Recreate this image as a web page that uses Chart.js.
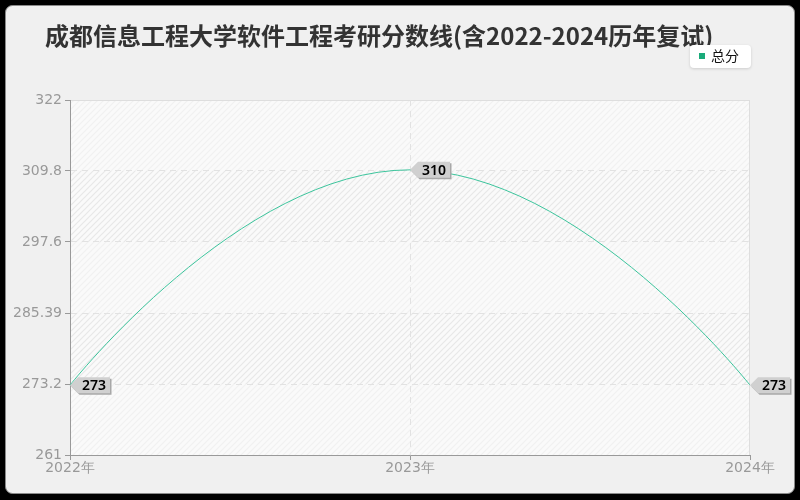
<!DOCTYPE html>
<html>
<head>
<meta charset="utf-8">
<script src="https://cdn.jsdelivr.net/npm/chart.js@4.4.0/dist/chart.umd.min.js"></script>
<style>
  html, body { margin: 0; padding: 0; background: #000; }
  #wrap { width: 800px; height: 500px; }
</style>
</head>
<body>
<div id="wrap"><canvas id="chart" width="800" height="500"></canvas></div>
<script>
// chart data
const titleText = "成都信息工程大学软件工程考研分数线(含2022-2024历年复试)";
const years = ["2022年", "2023年", "2024年"];
const seriesName = "总分";
const scores = [273, 310, 273];
const yTicks = [261, 273.2, 285.39, 297.6, 309.8, 322];
const lineColor = "#3cc49c";

// striped background for the plot area
function stripes(bg, fg) {
    const c = document.createElement("canvas");
    c.width = 6; c.height = 6;
    const g = c.getContext("2d");
    g.fillStyle = bg;
    g.fillRect(0, 0, 6, 6);
    g.strokeStyle = fg;
    g.lineWidth = 1.2;
    g.beginPath();
    g.moveTo(0, 6); g.lineTo(6, 0);
    g.moveTo(-3, 3); g.lineTo(3, -3);
    g.moveTo(3, 9); g.lineTo(9, 3);
    g.stroke();
    return g.createPattern(c, "repeat");
}

const frame = {
    id: "frame",
    beforeDraw(chart) {
        const ctx = chart.ctx;
        const a = chart.chartArea;
        const y = chart.scales.y;
        ctx.save();
        ctx.fillStyle = "#000";
        ctx.fillRect(0, 0, 800, 500);
        ctx.beginPath();
        ctx.roundRect(5.5, 5.5, 789, 488, 7);
        ctx.fillStyle = "#f0f0f0";
        ctx.fill();
        ctx.strokeStyle = "#8a8a8a";
        ctx.lineWidth = 1;
        ctx.stroke();

        // plot area bands
        const light = stripes("#fafafa", "#f1f1f1");
        const dark = stripes("#fafafa", "#e8e8e8");
        for (let i = 0; i < yTicks.length - 1; i++) {
            const top = y.getPixelForValue(yTicks[i + 1]);
            const bot = y.getPixelForValue(yTicks[i]);
            ctx.fillStyle = (i % 2 === 1) ? dark : light;
            ctx.fillRect(a.left, top, a.right - a.left, bot - top);
        }
        ctx.strokeStyle = "#dedede";
        ctx.beginPath();
        ctx.moveTo(a.left, a.top + 0.5); ctx.lineTo(a.right, a.top + 0.5);
        ctx.moveTo(a.right - 0.5, a.top); ctx.lineTo(a.right - 0.5, a.bottom);
        ctx.stroke();

        // title
        ctx.fillStyle = "#333";
        ctx.font = "bold 24px 'Noto Sans CJK SC'";
        ctx.textBaseline = "middle";
        ctx.fillText(titleText, 45, 36);

        // legend box
        ctx.shadowColor = "rgba(0,0,0,0.15)";
        ctx.shadowBlur = 3;
        ctx.shadowOffsetY = 1;
        ctx.fillStyle = "#fff";
        ctx.beginPath();
        ctx.roundRect(690, 45, 61, 23, 4);
        ctx.fill();
        ctx.shadowColor = "transparent";
        ctx.fillStyle = "#1aab7a";
        ctx.fillRect(699, 53, 6, 6);
        ctx.fillStyle = "#111";
        ctx.font = "14px 'Noto Sans CJK SC'";
        ctx.fillText(seriesName, 711, 56);
        ctx.restore();
    }
};

// end segments leave the end points with no handle (smoother bow like the original)
const endHandles = {
    id: "endHandles",
    beforeDatasetsDraw(chart) {
        const meta = chart.getDatasetMeta(0);
        meta.dataset.updateControlPoints(chart.chartArea);
        const pts = meta.data;
        const first = pts[0], last = pts[pts.length - 1];
        first.cp2x = first.x; first.cp2y = first.y;
        last.cp1x = last.x; last.cp1y = last.y;
    }
};

// value tags beside each point
const tags = {
    id: "tags",
    afterDatasetsDraw(chart) {
        const ctx = chart.ctx;
        const meta = chart.getDatasetMeta(0);
        ctx.save();
        ctx.font = "600 14px 'Noto Sans'";
        ctx.textBaseline = "middle";
        meta.data.forEach((pt, i) => {
            const txt = String(scores[i]);
            const w = ctx.measureText(txt).width + 8;
            const x = pt.x, yy = pt.y, h = 16;
            const draw = () => {
                ctx.beginPath();
                ctx.moveTo(x, yy);
                ctx.lineTo(x + 8, yy - h / 2);
                ctx.lineTo(x + 8 + w, yy - h / 2);
                ctx.lineTo(x + 8 + w, yy + h / 2);
                ctx.lineTo(x + 8, yy + h / 2);
                ctx.closePath();
            };
            ctx.fillStyle = "#a8a8a8";
            ctx.save();
            ctx.translate(1.5, 1.5);
            draw(); ctx.fill();
            ctx.restore();
            ctx.fillStyle = "#d0d0d0";
            draw(); ctx.fill();
            ctx.fillStyle = "#000";
            ctx.fillText(txt, x + 12, yy + 1);
        });
        ctx.restore();
    }
};

new Chart(document.getElementById("chart"), {
    type: "line",
    data: {
        labels: years,
        datasets: [{
            label: seriesName,
            data: scores,
            borderColor: lineColor,
            borderWidth: 1,
            tension: 0.5,
            pointRadius: 0,
            fill: false
        }]
    },
    options: {
        responsive: false,
        animation: false,
        devicePixelRatio: 1,
        layout: { padding: { top: 100, right: 50, left: 0, bottom: 0 } },
        plugins: {
            legend: { display: false },
            title: { display: false },
            tooltip: { enabled: false }
        },
        scales: {
            x: {
                offset: false,
                grid: {
                    color: (c) => (c.index === 1 ? "#e2e2e2" : "transparent"),
                    tickColor: "#999",
                    tickLength: 5
                },
                border: { color: "#999", dash: [6, 5] },
                ticks: { color: "#999", font: { size: 14, family: "'DejaVu Sans'" }, padding: 0, maxRotation: 0 },
                afterFit(s) { s.height = 45; }
            },
            y: {
                min: 261,
                max: 322,
                afterBuildTicks(s) { s.ticks = yTicks.map(v => ({ value: v })); },
                grid: {
                    color: (c) => (c.index === 0 || c.index === yTicks.length - 1 ? "transparent" : "#e2e2e2"),
                    tickColor: "#999",
                    tickLength: 5
                },
                border: { color: "#999", dash: [6, 5] },
                ticks: {
                    color: "#999",
                    font: { size: 14, family: "'DejaVu Sans'" },
                    padding: 3,
                    callback: (v, i) => String(yTicks[i])
                },
                afterFit(s) { s.width = 70; }
            }
        }
    },
    plugins: [frame, endHandles, tags]
});
</script>
</body>
</html>
